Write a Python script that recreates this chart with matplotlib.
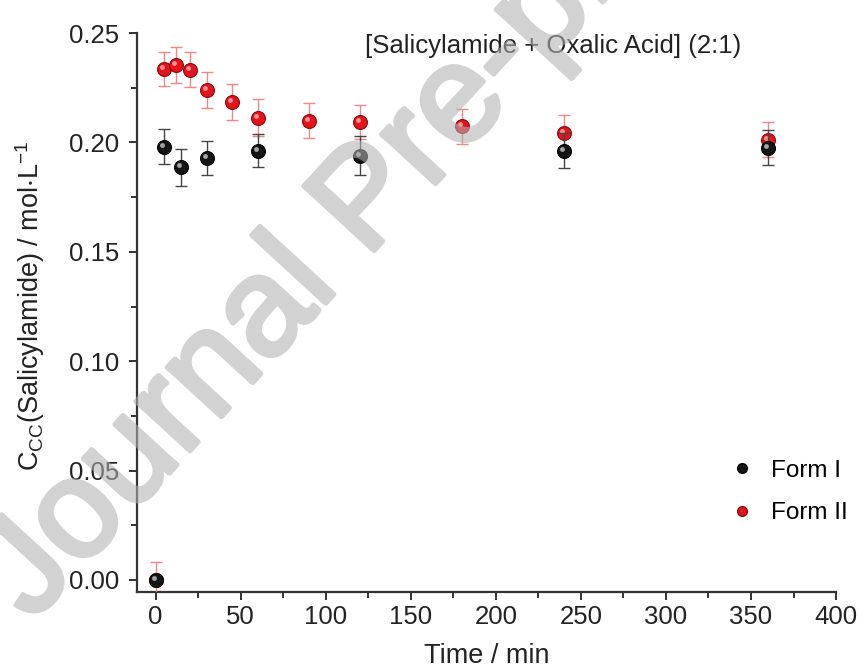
import matplotlib
matplotlib.use('Agg')
import matplotlib.pyplot as plt
import matplotlib.patheffects as pe
from matplotlib.transforms import offset_copy
from matplotlib.lines import Line2D

plt.rcParams['font.family'] = ['Liberation Sans', 'DejaVu Sans']
plt.rcParams['mathtext.default'] = 'regular'

# data
t_form1 = [0, 5, 15, 30, 60, 120, 240, 360]
c_form1 = [0.000, 0.198, 0.1887, 0.193, 0.1963, 0.194, 0.1963, 0.1976]
err_form1 = [0.000, 0.008, 0.0084, 0.0078, 0.0076, 0.009, 0.008, 0.008]

t_form2 = [0, 5, 12, 20, 30, 45, 60, 90, 120, 180, 240, 360]
c_form2 = [0.000, 0.2336, 0.2352, 0.2332, 0.224, 0.2184, 0.2113, 0.210, 0.2093, 0.2073, 0.2044, 0.2012]
err_form2 = [0.008, 0.0078, 0.0082, 0.008, 0.0081, 0.0081, 0.0085, 0.0079, 0.0076, 0.008, 0.008, 0.008]

x_ticks = [0, 50, 100, 150, 200, 250, 300, 350, 400]
y_ticks = [0.00, 0.05, 0.10, 0.15, 0.20, 0.25]

fig = plt.figure(figsize=(8.61, 6.70), dpi=100)
ax = fig.add_axes([0.159, 0.1164, 0.812, 0.8343])

def sphere(x, y, err, face, edge, ecolor, hilite, label, z):
    ax.errorbar(x, y, yerr=err, fmt='none', ecolor=ecolor, elinewidth=1.0,
                capsize=4, capthick=1.0, zorder=z)
    ax.plot(x, y, 'o', ms=10, mfc=face, mec=edge, mew=0.8, zorder=z + 1, label=label)
    # little glossy spot so the markers look like the balls in the original
    tr = offset_copy(ax.transData, fig=fig, x=-2, y=2, units='dots')
    ax.plot(x, y, 'o', ms=3.5, mfc=hilite, mec='none', alpha=0.8, transform=tr, zorder=z + 2)

sphere(t_form2, c_form2, err_form2, '#e3141c', '#8a0a0a', '#ee8888', '#ffb0b0', 'Form II', 3)
sphere(t_form1, c_form1, err_form1, '#151515', '#000000', '#444444', '#c8c8c8', 'Form I', 6)

ax.set_xlim(-11, 400)
ax.set_ylim(-0.0055, 0.25)
ax.set_xticks(x_ticks)
ax.set_xticks([25, 75, 125, 175, 225, 275, 325, 375], minor=True)
ax.set_yticks(y_ticks)
ax.set_yticks([0.025, 0.075, 0.125, 0.175, 0.225], minor=True)
ax.set_yticklabels(['%.2f' % v for v in y_ticks])
ax.tick_params(which='both', direction='out', color='#333333', width=1.4,
               labelsize=18.5, labelcolor='#222222')
ax.tick_params(which='major', length=6)
ax.tick_params(which='minor', length=4)
ax.tick_params(axis='y', which='major', pad=7)
for s in ['top', 'right']:
    ax.spines[s].set_visible(False)
for s in ['left', 'bottom']:
    ax.spines[s].set_linewidth(1.6)
    ax.spines[s].set_color('#333333')

ax.set_xlabel('Time / min', fontsize=19.5, color='#222222', labelpad=10)
ax.set_ylabel(r'C$_{CC}$(Salicylamide) / mol$\cdot$L$^{-1}$', fontsize=19.5,
              color='#222222')
ax.yaxis.set_label_coords(-0.128, 0.513)

ax.text(365 / 861, 1 - 46 / 670, '[Salicylamide + Oxalic Acid] (2:1)', transform=fig.transFigure,
        ha='left', va='center', fontsize=18.5, color='#222222')

handles = [Line2D([], [], ls='none', marker='o', ms=7, mfc='#151515', mec='#000000'),
           Line2D([], [], ls='none', marker='o', ms=7, mfc='#e3141c', mec='#8a0a0a')]
ax.legend(handles, ['Form I', 'Form II'], loc='center left', bbox_to_anchor=(0.817, 0.179),
          frameon=False, fontsize=17.5, handletextpad=0.7, labelspacing=0.85,
          handlelength=1.0)


def fade(img, dpi):
    # make the whole watermark see-through in one go (no double alpha where stroke meets fill)
    img = img.copy()
    img[..., 3] *= 0.58
    return img, 0, 0


# watermark, drawn over the data like in the source
wm = fig.text(395 / 861, 1 - 228 / 670, 'Journal Pre-proof', fontsize=100,
              rotation=47.4, rotation_mode='anchor', ha='center', va='baseline',
              color='#b1b1b1', zorder=20,
              path_effects=[pe.withStroke(linewidth=3.5, foreground='#b1b1b1')])
wm.set_agg_filter(fade)

fig.savefig('out.png', dpi=100)
